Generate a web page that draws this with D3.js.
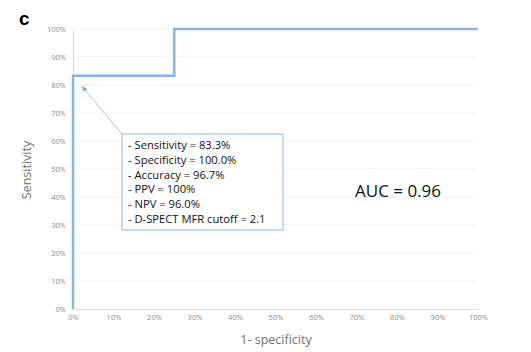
<!DOCTYPE html>
<html><head><meta charset="utf-8">
<script src="https://cdn.jsdelivr.net/npm/d3@7"></script>
<style>body{margin:0;background:#fff}svg{display:block}</style>
</head><body>
<svg id="c" width="531" height="352"></svg>
<script>
const fpr = [0, 0, 0.25, 0.25, 1];
const tpr = [0, 0.833, 0.833, 1, 1];
const ticks = [0,0.1,0.2,0.3,0.4,0.5,0.6,0.7,0.8,0.9,1];
const statsLines = ["- Sensitivity = 83.3%","- Specificity = 100.0%","- Accuracy = 96.7%","- PPV = 100%","- NPV = 96.0%","- D-SPECT MFR cutoff = 2.1"];
const aucLabel = "AUC = 0.96";
const arrowTarget = [0.015, 0.795];

const svg = d3.select("#c");
const x = d3.scaleLinear().domain([0,1]).range([73,478]);
const y = d3.scaleLinear().domain([0,1]).range([309,29]);
const fmt = d3.format(".0%");
const font = "'Open Sans', 'Liberation Sans', sans-serif";

// gridlines
svg.append("g").selectAll("line").data(ticks.slice(1)).join("line")
  .attr("x1",x(0)).attr("x2",x(1)).attr("y1",d=>y(d)).attr("y2",d=>y(d))
  .attr("stroke","#f0f0f0").attr("stroke-width",1);

// x axis
const xa = svg.append("g").attr("transform",`translate(0,${y(0)})`)
  .call(d3.axisBottom(x).tickValues(ticks).tickFormat(fmt).tickSize(0).tickPadding(6));
xa.select(".domain").attr("stroke","#d9d9d9");
xa.selectAll("text").attr("fill","#8c8c8c").style("font-family",font).style("font-size","7.5px");

// y axis
const ya = svg.append("g").attr("transform",`translate(${x(0)},0)`)
  .call(d3.axisLeft(y).tickValues(ticks).tickFormat(fmt).tickSize(0).tickPadding(7));
ya.select(".domain").attr("stroke","#d9d9d9");
ya.selectAll("text").attr("fill","#8c8c8c").style("font-family",font).style("font-size","7.5px");

// ROC line
svg.append("path").datum(fpr.map((f,i)=>[f,tpr[i]]))
  .attr("d", d3.line().x(d=>x(d[0])).y(d=>y(d[1])))
  .attr("fill","none").attr("stroke","#86b6e6").attr("stroke-width",2.5);

// arrow marker
svg.append("defs").append("marker").attr("id","ah").attr("viewBox","0 0 10 10")
  .attr("refX",9).attr("refY",5).attr("markerWidth",6).attr("markerHeight",6).attr("orient","auto")
  .append("path").attr("d","M0,1 L10,5 L0,9 z").attr("fill","#7aaee2");

// box
const bx=122, by=134, bw=161, bh=96;
svg.append("line").attr("x1",bx).attr("y1",by).attr("x2",x(arrowTarget[0])+3).attr("y2",y(arrowTarget[1]))
  .attr("stroke","#9fc5ec").attr("stroke-width",1).attr("marker-end","url(#ah)");
svg.append("rect").attr("x",bx).attr("y",by).attr("width",bw).attr("height",bh)
  .attr("fill","#fff").attr("stroke","#9fc5ec").attr("stroke-width",1.2);
svg.append("g").selectAll("text").data(statsLines).join("text")
  .attr("x",bx+6).attr("y",(d,i)=>149+i*14.8)
  .attr("fill","#111").style("font-family",font).style("font-size","11.2px").text(d=>d);

// AUC
svg.append("text").attr("x",355).attr("y",197).attr("fill","#111")
  .style("font-family",font).style("font-size","17px").text(aucLabel);

// axis titles
svg.append("text").attr("transform","translate(31,170) rotate(-90)").attr("text-anchor","middle")
  .attr("fill","#707070").style("font-family",font).style("font-size","12.5px").text("Sensitivity");
svg.append("text").attr("x",276).attr("y",344).attr("text-anchor","middle")
  .attr("fill","#707070").style("font-family",font).style("font-size","12.5px").text("1- specificity");

// panel label
svg.append("text").attr("x",19).attr("y",25).attr("fill","#000")
  .style("font-family","'Liberation Sans', Arial, sans-serif").style("font-weight","bold").style("font-size","19px").text("c");
</script>
</body></html>
